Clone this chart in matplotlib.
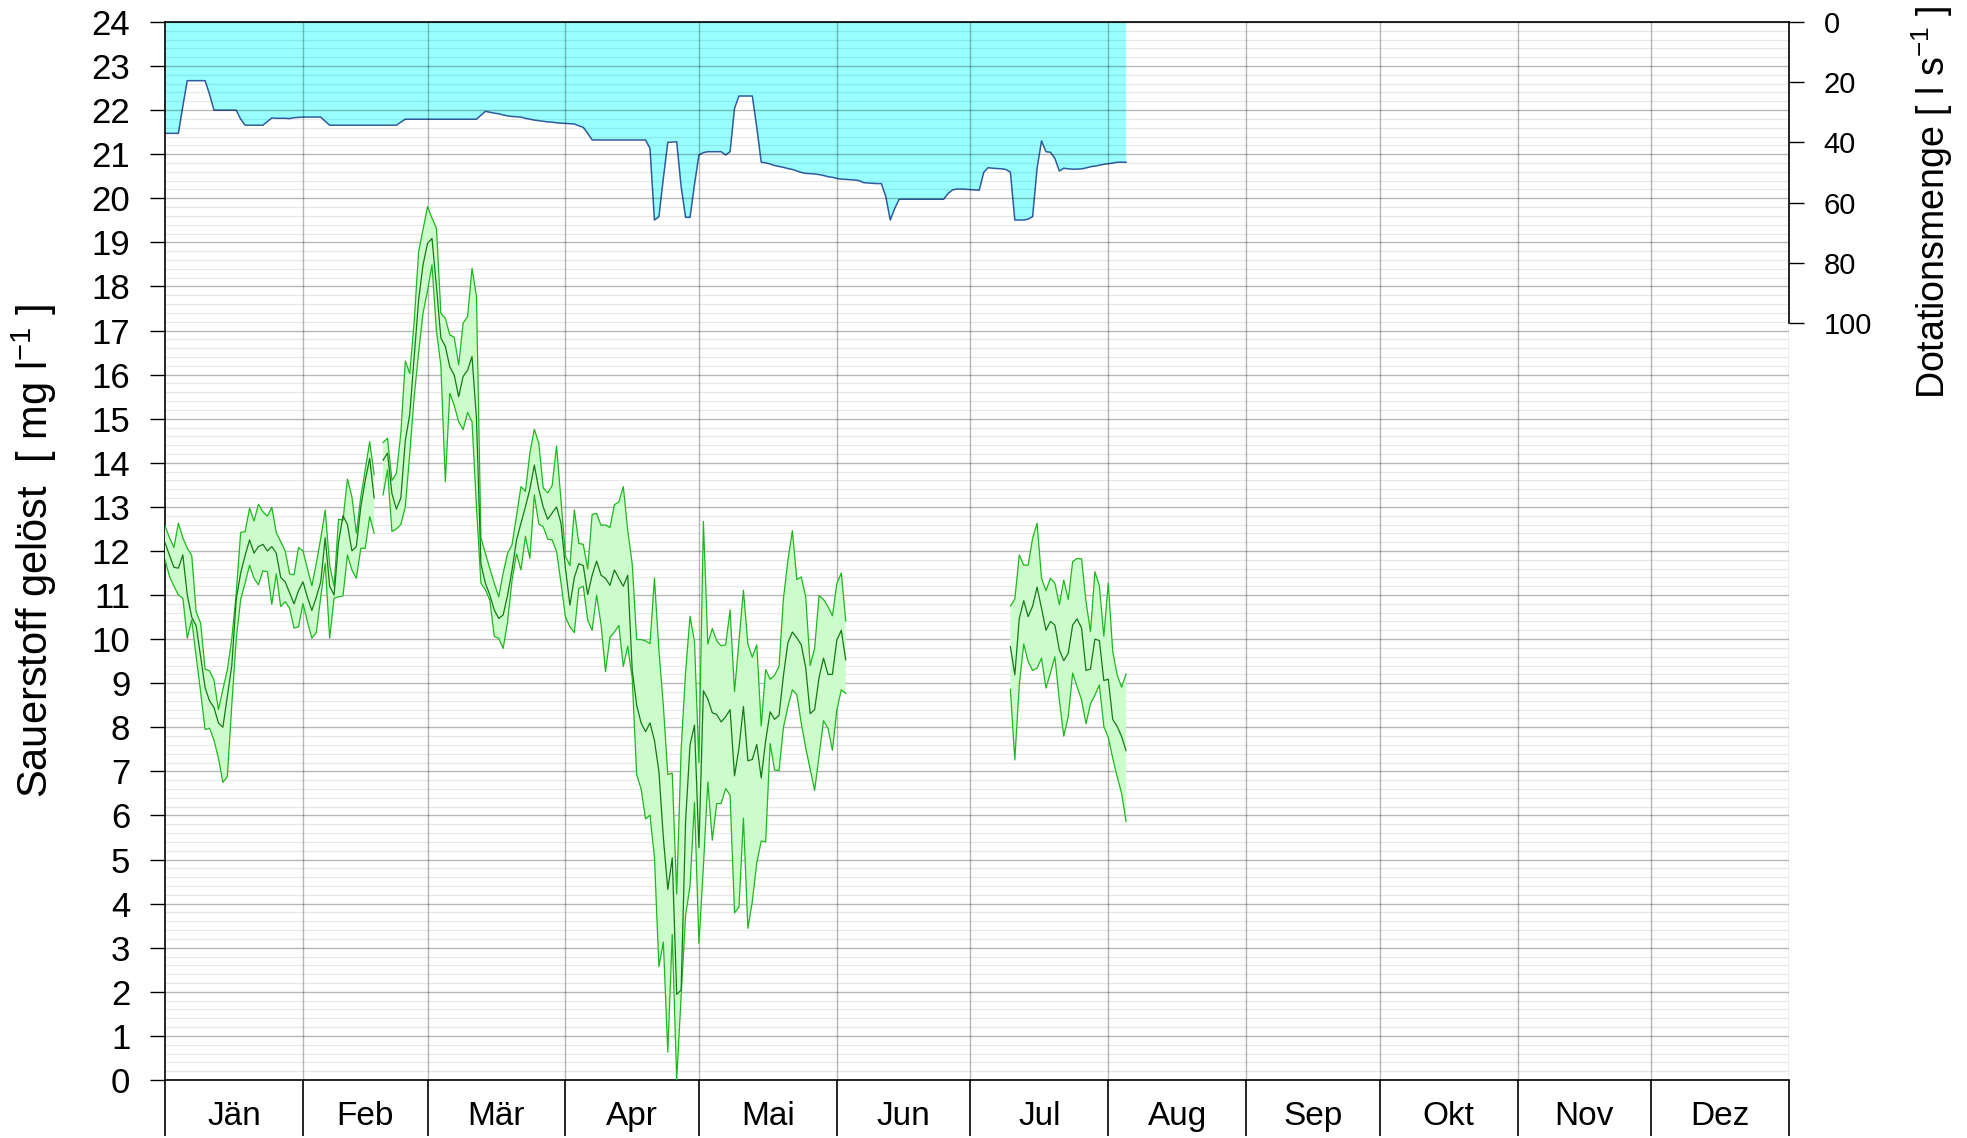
import numpy as np
import matplotlib
matplotlib.use('Agg')
import matplotlib.pyplot as plt
from matplotlib.ticker import FixedLocator, MultipleLocator, NullFormatter

# ---------------------------------------------------------------------------
# Daten (Tageswerte, Tag 0 = 1. Jänner)
# ---------------------------------------------------------------------------
months = ['Jän', 'Feb', 'Mär', 'Apr', 'Mai', 'Jun',
          'Jul', 'Aug', 'Sep', 'Okt', 'Nov', 'Dez']
month_start = [0, 31, 59, 90, 120, 151, 181, 212, 243, 273, 304, 334, 365]

# Sauerstoff gelöst [mg/l] -- drei Messabschnitte
seg_start = [0, 49, 190]

o2_max_1 = [12.57, 12.3, 12.08, 12.63, 12.3, 12.06, 11.9, 10.62, 10.36, 9.32,
            9.28, 9.07, 8.4, 8.86, 9.3, 10.0, 11.04, 12.42, 12.44, 12.97,
            12.68, 13.06, 12.89, 12.79, 12.99, 12.42, 12.21, 12.0, 11.48, 11.46,
            12.08, 12.0, 11.6, 11.21, 11.72, 12.29, 12.93, 11.68, 11.2, 12.72,
            12.7, 13.63, 13.23, 12.4, 13.23, 13.84, 14.48, 13.73]
o2_mean_1 = [12.19, 11.9, 11.63, 11.61, 11.91, 11.0, 10.5, 10.3, 9.6, 8.9,
             8.6, 8.45, 8.1, 8.0, 8.7, 9.4, 10.9, 11.5, 11.9, 12.25,
             11.95, 12.1, 12.15, 12.0, 12.1, 11.95, 11.4, 11.3, 11.05, 10.8,
             11.1, 11.3, 10.95, 10.65, 10.95, 11.3, 12.3, 11.2, 11.0, 12.2,
             12.8, 12.6, 12.0, 12.1, 13.0, 13.6, 14.1, 13.2]
o2_min_1 = [11.8, 11.42, 11.2, 11.0, 10.93, 10.02, 10.44, 9.6, 8.8, 7.95,
            7.98, 7.71, 7.3, 6.75, 6.88, 8.5, 10.0, 10.9, 11.27, 11.68,
            11.38, 11.23, 11.55, 11.53, 10.79, 11.48, 10.74, 10.85, 10.7, 10.25,
            10.28, 10.81, 10.4, 10.02, 10.15, 10.96, 11.72, 10.02, 10.93, 10.96,
            10.98, 11.91, 11.57, 11.38, 12.06, 12.06, 12.78, 12.4]

o2_max_2 = [14.46, 14.56, 13.6, 13.76, 14.67, 16.31, 16.03, 17.2, 18.79, 19.3,
            19.81, 19.55, 19.32, 17.39, 17.28, 16.9, 16.85, 16.22, 17.17, 17.32,
            18.41, 17.77, 12.3, 11.95, 11.6, 11.27, 10.96, 11.5, 11.95, 12.14,
            12.8, 13.46, 13.35, 14.22, 14.76, 14.45, 13.43, 13.32, 13.48, 14.38,
            13.14, 11.88, 11.67, 12.93, 12.17, 12.15, 11.59, 12.83, 12.85, 12.58,
            12.59, 12.53, 13.05, 13.11, 13.46, 12.46, 11.71, 9.99, 9.99, 9.96,
            9.9, 11.38, 9.75, 8.49, 6.93, 6.96, 4.22, 7.5, 9.26, 10.52,
            9.94, 7.2, 12.67, 9.89, 10.24, 9.96, 9.85, 9.87, 10.66, 8.81,
            9.96, 11.11, 9.89, 9.59, 9.87, 8.03, 9.31, 9.09, 9.18, 9.38,
            10.93, 11.79, 12.46, 11.35, 11.41, 10.96, 9.4, 9.79, 10.99, 10.9,
            10.74, 10.53, 11.26, 11.5, 10.41]
o2_mean_2 = [14.06, 14.22, 13.3, 12.95, 13.2, 14.5, 15.1, 16.4, 17.7, 18.5,
             18.98, 19.09, 18.0, 16.83, 16.64, 16.18, 15.99, 15.5, 15.96, 16.1,
             16.41, 15.0, 11.7, 11.27, 11.0, 10.66, 10.47, 10.55, 11.0, 11.57,
             12.25, 12.63, 13.0, 13.4, 13.95, 13.4, 13.0, 12.72, 12.86, 13.0,
             12.63, 11.6, 10.77, 11.4, 11.71, 11.67, 11.01, 11.45, 11.77, 11.45,
             11.38, 11.22, 11.57, 11.38, 11.2, 11.45, 9.3, 8.5, 8.1, 7.9,
             8.1, 7.7, 7.0, 5.5, 4.32, 5.04, 1.94, 2.04, 5.87, 7.6,
             8.05, 5.27, 8.83, 8.64, 8.33, 8.29, 8.12, 8.24, 8.4, 6.9,
             7.53, 8.47, 7.24, 7.27, 7.61, 6.85, 7.7, 8.35, 8.18, 8.27,
             9.18, 9.92, 10.16, 10.03, 9.87, 9.35, 8.31, 8.4, 9.13, 9.57,
             9.2, 9.2, 9.98, 10.2, 9.53]
o2_min_2 = [13.27, 13.84, 12.44, 12.5, 12.6, 13.0, 14.2, 15.5, 16.5, 17.4,
            17.9, 18.49, 17.0, 16.2, 13.57, 15.58, 15.3, 14.93, 14.75, 15.14,
            14.93, 13.0, 11.27, 11.12, 10.89, 10.06, 10.02, 9.79, 10.4, 11.34,
            11.93, 11.57, 12.33, 11.83, 13.27, 12.61, 12.55, 12.27, 12.25, 11.99,
            11.27, 10.5, 10.28, 10.15, 11.15, 11.2, 10.43, 10.2, 11.0, 10.33,
            9.26, 10.04, 10.16, 10.31, 9.38, 9.84, 9.12, 6.93, 6.6, 5.92,
            6.01, 5.04, 2.57, 3.13, 0.63, 3.3, 0.0, 1.9, 3.73, 4.4,
            6.3, 3.1, 4.83, 6.76, 5.44, 6.27, 6.27, 6.61, 6.46, 3.79,
            3.92, 5.94, 3.44, 4.05, 4.92, 5.42, 5.4, 7.63, 7.03, 7.02,
            8.0, 8.47, 8.85, 8.74, 8.09, 7.53, 7.05, 6.57, 7.35, 8.15,
            7.98, 7.48, 8.4, 8.85, 8.77]

o2_max_3 = [10.75, 10.91, 11.91, 11.68, 11.68, 12.29, 12.63, 11.38, 11.1, 11.38,
            11.27, 10.78, 11.34, 10.9, 11.76, 11.83, 11.82, 10.85, 10.17, 11.53,
            11.21, 10.07, 11.27, 9.72, 9.19, 8.91, 9.21]
o2_mean_3 = [9.83, 9.19, 10.47, 10.87, 10.51, 10.75, 11.18, 10.7, 10.2, 10.4,
             10.32, 9.76, 9.51, 9.68, 10.32, 10.46, 10.25, 9.29, 9.32, 10.0,
             9.97, 9.06, 9.09, 8.18, 8.02, 7.79, 7.47]
o2_min_3 = [8.86, 7.26, 8.96, 9.89, 9.49, 9.29, 9.34, 9.57, 8.89, 9.23,
            9.6, 8.62, 7.8, 8.24, 9.23, 8.92, 8.62, 8.08, 8.53, 8.73,
            8.96, 8.02, 7.77, 7.3, 6.88, 6.5, 5.86]

# Dotationsmenge [l/s], Tag 0 bis 216
dotation = [37.0, 37.0, 37.0, 37.0, 28.0, 19.5, 19.5, 19.5, 19.5, 19.5,
            24.0, 29.3, 29.3, 29.3, 29.3, 29.3, 29.3, 32.3, 34.3, 34.3,
            34.3, 34.3, 34.3, 33.1, 31.9, 32.0, 32.0, 32.0, 32.1, 31.8,
            31.7, 31.6, 31.6, 31.6, 31.6, 31.6, 33.0, 34.3, 34.3, 34.3,
            34.3, 34.3, 34.3, 34.3, 34.3, 34.3, 34.3, 34.3, 34.3, 34.3,
            34.3, 34.3, 34.3, 33.3, 32.3, 32.3, 32.3, 32.3, 32.3, 32.3,
            32.3, 32.3, 32.3, 32.3, 32.3, 32.3, 32.3, 32.3, 32.3, 32.3,
            32.3, 31.0, 29.7, 30.0, 30.3, 30.5, 30.9, 31.2, 31.4, 31.5,
            31.6, 32.0, 32.3, 32.6, 32.8, 33.0, 33.2, 33.3, 33.5, 33.6,
            33.7, 33.8, 33.9, 34.5, 35.0, 37.0, 39.2, 39.2, 39.2, 39.2,
            39.2, 39.2, 39.2, 39.2, 39.2, 39.2, 39.2, 39.2, 39.2, 42.0,
            65.8, 64.7, 52.0, 40.0, 39.9, 39.8, 54.7, 64.9, 64.9, 54.0,
            44.2, 43.4, 43.1, 43.1, 43.1, 43.1, 44.2, 43.1, 28.7, 24.6,
            24.6, 24.6, 24.6, 35.0, 46.6, 46.8, 47.2, 47.7, 48.0, 48.3,
            48.7, 49.0, 49.5, 50.0, 50.3, 50.4, 50.5, 50.7, 51.0, 51.4,
            51.6, 52.0, 52.2, 52.3, 52.4, 52.5, 52.7, 53.4, 53.5, 53.6,
            53.7, 53.7, 58.0, 65.8, 62.0, 58.9, 58.9, 58.9, 58.9, 58.9,
            58.9, 58.9, 58.9, 58.9, 58.9, 58.9, 57.0, 55.8, 55.5, 55.5,
            55.6, 55.7, 55.8, 55.9, 50.0, 48.4, 48.6, 48.7, 48.8, 49.0,
            49.9, 65.8, 65.8, 65.8, 65.5, 64.7, 48.6, 39.5, 43.1, 43.3,
            45.3, 49.5, 48.6, 48.8, 48.9, 48.9, 48.8, 48.5, 48.1, 47.9,
            47.6, 47.3, 47.1, 46.9, 46.6, 46.6, 46.6]

# ---------------------------------------------------------------------------
# Farben / Schrift
# ---------------------------------------------------------------------------
COL_DOT_FILL = '#99ffff'
COL_DOT_LINE = '#2f5d9e'
COL_O2_FILL = '#ccfccc'
COL_O2_EDGE = '#1db81d'
COL_O2_MEAN = '#157a15'

plt.rcParams['font.family'] = ['Liberation Sans', 'DejaVu Sans']
plt.rcParams['mathtext.default'] = 'regular'

fig = plt.figure(figsize=(19.67, 11.38), dpi=100)
fig.patch.set_facecolor('white')

ax = fig.add_axes([0.0839, 0.051, 0.8256, 0.9297])
ax2 = ax.twinx()
ax.set_zorder(ax2.get_zorder() + 1)
ax.patch.set_visible(False)

# ---------------------------------------------------------------------------
# Dotationsmenge (rechte Achse, von oben)
# ---------------------------------------------------------------------------
dot_days = np.arange(len(dotation))
ax2.fill_between(dot_days, 0, dotation, facecolor=COL_DOT_FILL, lw=0, zorder=1)
ax2.plot(dot_days, dotation, color=COL_DOT_LINE, lw=1.1, zorder=2)
ax2.set_ylim(351.5, 0)
ax2.set_yticks([0, 20, 40, 60, 80, 100])
for s in ['top', 'left', 'bottom']:
    ax2.spines[s].set_visible(False)
ax2.spines['right'].set_bounds(0, 100)
ax2.spines['right'].set_linewidth(1.2)
ax2.tick_params(axis='y', direction='out', length=11, width=1.0, pad=14,
                labelsize=21, colors='black')
lab_r = ax2.set_ylabel('Dotationsmenge [ l s$^{-1}$ ]', fontsize=27)
lab_r.set_verticalalignment('center')
ax2.yaxis.set_label_coords(1.088, 0.83)

# ---------------------------------------------------------------------------
# Sauerstoff (linke Achse)
# ---------------------------------------------------------------------------
segments = [
    (o2_max_1, o2_mean_1, o2_min_1),
    (o2_max_2, o2_mean_2, o2_min_2),
    (o2_max_3, o2_mean_3, o2_min_3),
]
for start, (hi, mid, lo) in zip(seg_start, segments):
    d = np.arange(start, start + len(hi))
    ax.fill_between(d, lo, hi, facecolor=COL_O2_FILL, lw=0, zorder=3)
    ax.plot(d, hi, color=COL_O2_EDGE, lw=0.9, zorder=4)
    ax.plot(d, lo, color=COL_O2_EDGE, lw=0.9, zorder=4)
    ax.plot(d, mid, color=COL_O2_MEAN, lw=0.9, zorder=5)

ax.set_xlim(0, 365)
ax.set_ylim(0, 24)

# Raster
ax.yaxis.set_major_locator(MultipleLocator(1))
ax.yaxis.set_minor_locator(MultipleLocator(0.2))
ax.grid(True, axis='y', which='major', color='black', alpha=0.28, lw=1.0, zorder=2)
ax.grid(True, axis='y', which='minor', color='black', alpha=0.09, lw=0.9, zorder=2)
for m in month_start[1:]:
    ax.axvline(m, color='black', alpha=0.28, lw=1.0, zorder=2)

# Monatsachse: Striche an Monatsgrenzen, Beschriftung in der Mitte
ax.xaxis.set_major_locator(FixedLocator(month_start))
ax.xaxis.set_major_formatter(NullFormatter())
mid = [(a + b) / 2 for a, b in zip(month_start[:-1], month_start[1:])]
ax.xaxis.set_minor_locator(FixedLocator(mid))
ax.set_xticklabels(months, minor=True)
ax.tick_params(axis='x', which='major', direction='out', length=40, width=1.2)
ax.tick_params(axis='x', which='minor', length=0, pad=15, labelsize=24)

ax.tick_params(axis='y', which='major', direction='out', length=11, width=1.0,
               pad=14, labelsize=25)
ax.tick_params(axis='y', which='minor', length=0)

ax.spines['right'].set_visible(False)
for s in ['left', 'top', 'bottom']:
    ax.spines[s].set_linewidth(1.2)

lab_l = ax.set_ylabel('Sauerstoff gelöst  [ mg l$^{-1}$ ]', fontsize=30)
lab_l.set_verticalalignment('center')
ax.yaxis.set_label_coords(-0.0807, 0.5)

fig.savefig('out.png', dpi=100, facecolor='white')
